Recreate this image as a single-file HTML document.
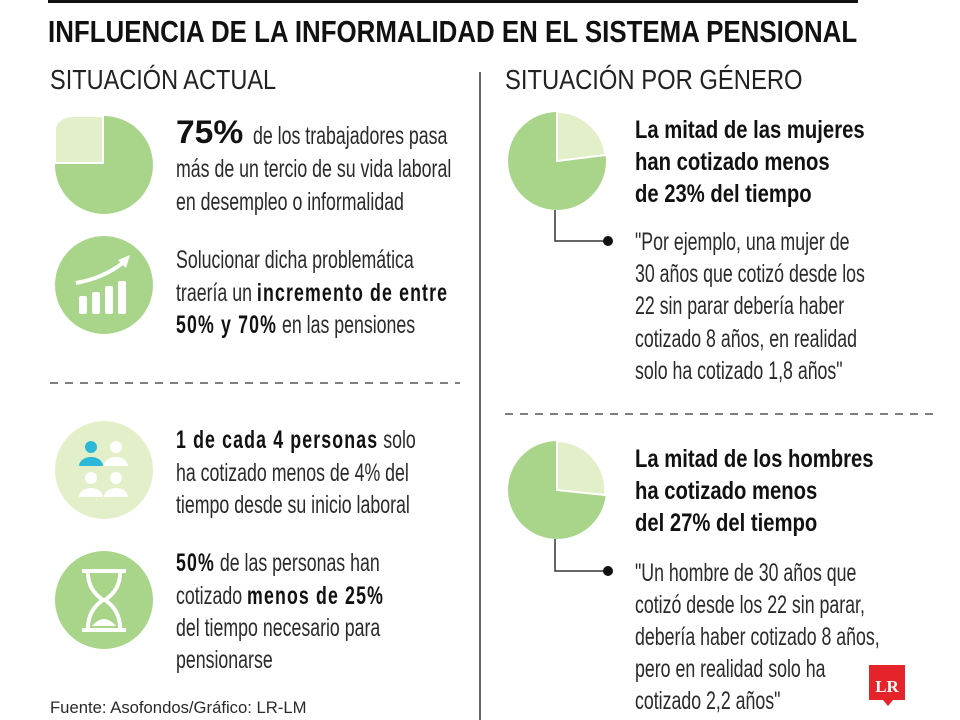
<!DOCTYPE html>
<html><head><meta charset="utf-8"><style>
body{margin:0;width:960px;height:720px;background:#fff;position:relative;overflow:hidden;font-family:"Liberation Sans Narrow","Liberation Sans",sans-serif;color:#2a2a2a}
.t{position:absolute;white-space:nowrap;transform-origin:0 0;transform:scaleX(.71);font-size:25px;line-height:1}
b{color:#111;letter-spacing:1.6px}
.h{font-weight:bold;color:#111;transform:scaleX(.81)}
</style></head><body>
<div style="position:absolute;left:48px;top:0;width:810px;height:3px;background:#111"></div>
<div class="t h" style="left:48px;top:16px;font-size:31px;transform:scaleX(.835)">INFLUENCIA DE LA INFORMALIDAD EN EL SISTEMA PENSIONAL</div>
<div class="t" style="left:50px;top:66px;font-size:28px;color:#222;transform:scaleX(.84)">SITUACIÓN ACTUAL</div>
<div class="t" style="left:505px;top:66px;font-size:28px;color:#222;transform:scaleX(.85)">SITUACIÓN POR GÉNERO</div>
<div style="position:absolute;left:479px;top:72px;width:2px;height:648px;background:#666"></div>
<svg width="960" height="720" style="position:absolute;left:0;top:0">
<circle cx="104" cy="165" r="49" fill="#a9d58b"/>
<path d="M103 163 L55 163 L55 128 Q58 118 70 116 L103 116 Z" fill="#e3efc9" stroke="#fff" stroke-width="2"/>
<circle cx="104" cy="285" r="49" fill="#a9d58b"/>
<g fill="#fff"><rect x="79" y="296" width="8" height="18" rx="2"/><rect x="92" y="292" width="8" height="22" rx="2"/><rect x="105" y="286" width="8" height="28" rx="2"/><rect x="118" y="281" width="8" height="33" rx="2"/></g>
<path d="M76 283 Q104 278 124 262" stroke="#fff" stroke-width="4" fill="none"/><polygon points="130,255 118,260 126,268" fill="#fff"/>
<line x1="50" y1="383" x2="460" y2="383" stroke="#555" stroke-width="1.5" stroke-dasharray="8,7"/>
<circle cx="104" cy="470" r="49" fill="#e3efc9"/>
<g fill="#fff"><circle cx="116" cy="447" r="6"/><path d="M104 466a12 9 0 0 1 24 0z"/><circle cx="91" cy="478" r="6"/><path d="M79 497a12 9 0 0 1 24 0z"/><circle cx="116" cy="478" r="6"/><path d="M104 497a12 9 0 0 1 24 0z"/></g>
<g fill="#2cb8d8"><circle cx="91" cy="447" r="6"/><path d="M79 466a12 9 0 0 1 24 0z"/></g>
<circle cx="104" cy="600" r="49" fill="#a9d58b"/>
<g stroke="#fff" stroke-width="4" fill="none"><line x1="82" y1="571" x2="126" y2="571"/><line x1="82" y1="630" x2="126" y2="630"/><path d="M88 573 Q88 590 103 600 Q88 610 88 628 M120 573 Q120 590 105 600 Q120 610 120 628"/></g>
<path d="M92 626 Q104 612 116 626z" fill="#fff"/>
<circle cx="557" cy="161" r="49" fill="#a9d58b"/>
<path d="M557 161 L557 112 A49 49 0 0 1 605.5 155 Z" fill="#e3efc9" stroke="#fff" stroke-width="2"/>
<polyline points="555,210 555,241 608,241" fill="none" stroke="#333" stroke-width="1.5"/><circle cx="608" cy="241" r="5" fill="#111"/>
<line x1="505" y1="414" x2="940" y2="414" stroke="#555" stroke-width="1.5" stroke-dasharray="8,7"/>
<circle cx="557" cy="490" r="49" fill="#a9d58b"/>
<path d="M557 490 L557 441 A49 49 0 0 1 605 495 Z" fill="#e3efc9" stroke="#fff" stroke-width="2"/>
<polyline points="555,539 555,571 608,571" fill="none" stroke="#333" stroke-width="1.5"/><circle cx="608" cy="571" r="5" fill="#111"/>
<path d="M869 665 h36 v35 h-12 l-5 6 l-5 -6 h-14z" fill="#e5232b"/>
<text x="887" y="692" text-anchor="middle" font-family="Liberation Serif" font-weight="bold" font-size="17" fill="#fff">LR</text>
</svg>
<div class="t" style="left:176px;top:116px;font-family:'Liberation Sans';font-weight:bold;font-size:32px;color:#111;transform:scaleX(1.05)">75%</div>
<div class="t" style="left:253px;top:124px">de los trabajadores pasa</div>
<div class="t" style="left:176px;top:157px">más de un tercio de su vida laboral</div>
<div class="t" style="left:176px;top:190px">en desempleo o informalidad</div>
<div class="t" style="left:176px;top:248px">Solucionar dicha problemática</div>
<div class="t" style="left:176px;top:281px">traería un <b>incremento de entre</b></div>
<div class="t" style="left:176px;top:313px"><b>50% y 70%</b> en las pensiones</div>
<div class="t" style="left:176px;top:428px"><b>1 de cada 4 personas</b> solo</div>
<div class="t" style="left:176px;top:461px">ha cotizado menos de 4% del</div>
<div class="t" style="left:176px;top:493px">tiempo desde su inicio laboral</div>
<div class="t" style="left:176px;top:551px"><b>50%</b> de las personas han</div>
<div class="t" style="left:176px;top:584px">cotizado <b>menos de 25%</b></div>
<div class="t" style="left:176px;top:616px">del tiempo necesario para</div>
<div class="t" style="left:176px;top:648px">pensionarse</div>
<div class="t" style="left:50px;top:699px;font-family:'Liberation Sans';font-size:17px;transform:scaleX(.98)">Fuente: Asofondos/Gráfico: LR-LM</div>
<div class="t h" style="left:635px;top:118px">La mitad de las mujeres</div>
<div class="t h" style="left:635px;top:150px">han cotizado menos</div>
<div class="t h" style="left:635px;top:182px">de 23% del tiempo</div>
<div class="t" style="left:635px;top:230px">"Por ejemplo, una mujer de</div>
<div class="t" style="left:635px;top:262px">30 años que cotizó desde los</div>
<div class="t" style="left:635px;top:294px">22 sin parar debería haber</div>
<div class="t" style="left:635px;top:327px">cotizado 8 años, en realidad</div>
<div class="t" style="left:635px;top:359px">solo ha cotizado 1,8 años"</div>
<div class="t h" style="left:635px;top:447px">La mitad de los hombres</div>
<div class="t h" style="left:635px;top:479px">ha cotizado menos</div>
<div class="t h" style="left:635px;top:511px">del 27% del tiempo</div>
<div class="t" style="left:635px;top:561px">"Un hombre de 30 años que</div>
<div class="t" style="left:635px;top:593px">cotizó desde los 22 sin parar,</div>
<div class="t" style="left:635px;top:625px">debería haber cotizado 8 años,</div>
<div class="t" style="left:635px;top:657px">pero en realidad solo ha</div>
<div class="t" style="left:635px;top:689px">cotizado 2,2 años"</div>
</body></html>
